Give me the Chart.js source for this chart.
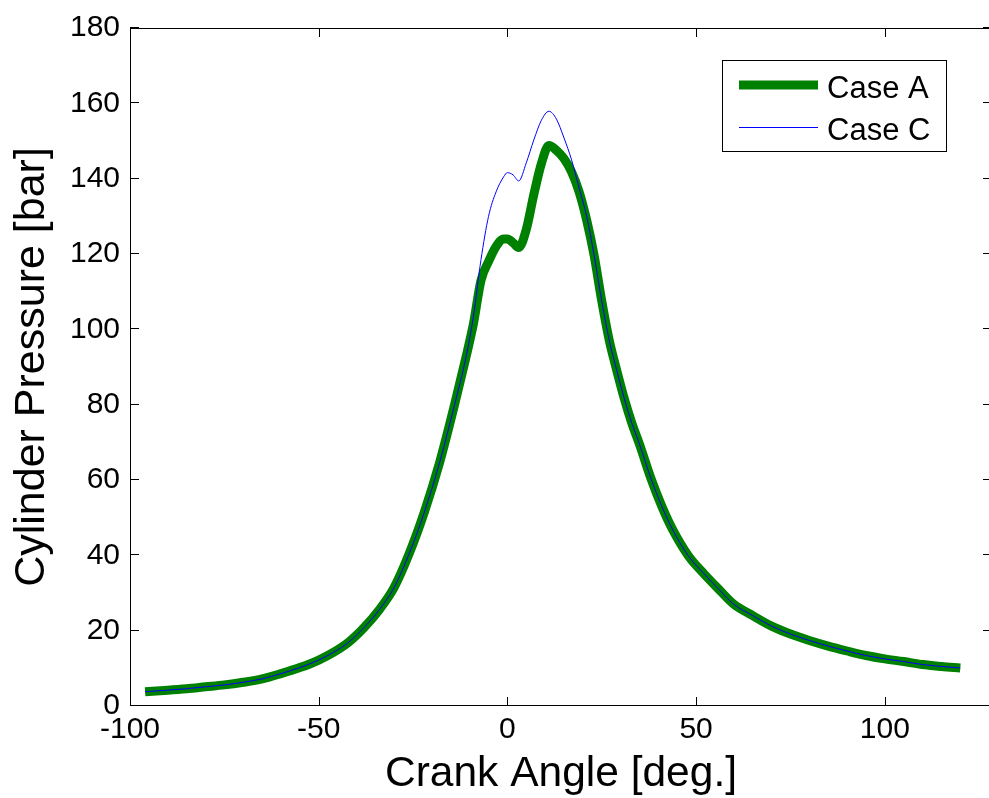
<!DOCTYPE html>
<html>
<head>
<meta charset="utf-8">
<title>Cylinder Pressure</title>
<script src="https://cdn.jsdelivr.net/npm/chart.js@4.4.1/dist/chart.umd.min.js"></script>
<style>
  html, body { margin: 0; padding: 0; background: #fff; overflow: hidden; }
  #wrap { width: 992px; height: 798px; position: relative; }
</style>
</head>
<body>
<div id="wrap"><canvas id="chart"></canvas></div>
<script>
// Crank angle [deg.] at which the pressure traces are sampled
const crankAngle = [-96, -90, -85, -80, -75, -70, -65, -60, -55, -50, -46, -42, -38, -34, -30, -26, -22, -18, -14, -11,
  -9, -7, -5, -3, -1, 0, 1.5, 3, 5, 7, 9, 11, 13, 15, 17, 19, 21, 23, 25, 27, 29, 31, 33, 35, 38, 41, 44, 48, 52, 56,
  60, 65, 70, 75, 80, 85, 90, 95, 100, 105, 110, 115, 120];

// Cylinder pressure [bar], Case A
const caseA = [3.8, 4.2, 4.6, 5.1, 5.6, 6.3, 7.2, 8.6, 10.2, 12.2, 14.3, 17.0, 20.8, 25.5, 31.5, 40.5, 51.5, 64.5, 80.0, 92.5,
  101.5, 113.0, 118.0, 122.0, 124.0, 124.0, 123.0, 121.7, 126.5, 135.8, 144.0, 148.8, 147.5, 145.3, 141.8, 136.5, 129.0, 119.5, 107.5, 97.0,
  89.0, 81.5, 75.0, 69.5, 60.5, 52.8, 46.4, 39.8, 35.2, 31.0, 27.0, 24.0, 21.2, 19.1, 17.4, 15.9, 14.6, 13.4, 12.5, 11.8,
  11.0, 10.5, 10.1];

// Cylinder pressure [bar], Case C
const caseC = [3.8, 4.2, 4.6, 5.1, 5.6, 6.3, 7.2, 8.6, 10.2, 12.2, 14.3, 17.0, 20.8, 25.5, 31.5, 40.5, 51.5, 64.5, 80.0, 92.5,
  103.5, 118.5, 130.0, 136.5, 140.5, 141.6, 141.0, 139.4, 144.2, 150.3, 155.5, 157.9, 155.8, 150.8, 145.0, 137.5, 130.0, 119.5, 107.5, 97.0,
  89.0, 81.5, 75.0, 69.5, 60.5, 52.8, 46.4, 39.8, 35.2, 31.0, 27.0, 24.0, 21.2, 19.1, 17.4, 15.9, 14.6, 13.4, 12.5, 11.8,
  11.0, 10.5, 10.1];

const seriesNames = ['Case A', 'Case C'];
const xTicks = [-100, -50, 0, 50, 100];
const yTicks = [0, 20, 40, 60, 80, 100, 120, 140, 160, 180];

const FONT = '"Liberation Sans", Arial, Helvetica, sans-serif';

const toPoints = (xs, ys) => xs.map((x, i) => ({ x: x, y: ys[i] }));

// Axes box with inward tick marks on all four sides, plus the boxed legend
const framePlugin = {
  id: 'frame',
  afterDatasetsDraw(chart) {
    const { ctx, chartArea: a, scales: { x, y } } = chart;
    ctx.save();
    ctx.strokeStyle = '#000';
    ctx.lineWidth = 1;
    ctx.strokeRect(a.left + 0.5, a.top + 0.5, a.right - a.left - 1, a.bottom - a.top - 1);
    const L = 9;
    ctx.beginPath();
    xTicks.forEach(v => {
      const px = Math.round(x.getPixelForValue(v)) + 0.5;
      ctx.moveTo(px, a.bottom); ctx.lineTo(px, a.bottom - L);
      ctx.moveTo(px, a.top); ctx.lineTo(px, a.top + L);
    });
    yTicks.forEach(v => {
      const py = Math.round(y.getPixelForValue(v)) - 0.5;
      ctx.moveTo(a.left, py); ctx.lineTo(a.left + L, py);
      ctx.moveTo(a.right, py); ctx.lineTo(a.right - L, py);
    });
    ctx.stroke();

    // legend
    const bx = 722.5, by = 60.5, bw = 224, bh = 91;
    ctx.fillStyle = '#fff';
    ctx.fillRect(bx, by, bw, bh);
    ctx.strokeRect(bx, by, bw, bh);
    const rows = [85, 127];
    chart.data.datasets.forEach((ds, i) => {
      const ry = rows[i];
      const off = ds.borderWidth === 1 ? 0.5 : 0;
      ctx.beginPath();
      ctx.strokeStyle = ds.borderColor;
      ctx.lineWidth = ds.borderWidth;
      ctx.lineCap = 'butt';
      ctx.moveTo(739, ry + off);
      ctx.lineTo(818, ry + off);
      ctx.stroke();
      ctx.fillStyle = '#000';
      ctx.font = '31px ' + FONT;
      ctx.textAlign = 'left';
      ctx.textBaseline = 'alphabetic';
      ctx.fillText(ds.label, 827, ry + 13);
    });
    ctx.restore();
  }
};

new Chart(document.getElementById('chart'), {
  type: 'line',
  data: {
    datasets: [
      {
        label: seriesNames[0],
        data: toPoints(crankAngle, caseA),
        borderColor: '#008000',
        borderWidth: 9,
        borderJoinStyle: 'round',
        cubicInterpolationMode: 'monotone',
        pointRadius: 0,
        order: 1
      },
      {
        label: seriesNames[1],
        data: toPoints(crankAngle, caseC),
        borderColor: '#0000ff',
        borderWidth: 1,
        cubicInterpolationMode: 'monotone',
        pointRadius: 0,
        order: 0
      }
    ]
  },
  options: {
    responsive: true,
    maintainAspectRatio: false,
    animation: false,
    layout: { padding: { top: 27, left: 0, right: 0, bottom: 0 } },
    plugins: { legend: { display: false }, tooltip: { enabled: false } },
    scales: {
      x: {
        type: 'linear',
        min: -100,
        max: 128.4,
        afterBuildTicks: s => { s.ticks = xTicks.map(v => ({ value: v })); },
        afterFit: s => { s.height = 92; },
        grid: { display: false, drawTicks: false },
        border: { display: false },
        ticks: { color: '#000', font: { family: FONT, size: 30 }, padding: 6, maxRotation: 0 },
        title: {
          display: true,
          text: 'Crank Angle [deg.]',
          color: '#000',
          font: { family: FONT, size: 42.5, lineHeight: 1.1 },
          padding: { top: 0, bottom: 0 }
        }
      },
      y: {
        type: 'linear',
        min: 0,
        max: 180,
        afterBuildTicks: s => { s.ticks = yTicks.map(v => ({ value: v })); },
        afterFit: s => { s.width = 130; },
        grid: { display: false, drawTicks: false },
        border: { display: false },
        ticks: { color: '#000', font: { family: FONT, size: 30 }, padding: 10 },
        title: {
          display: true,
          text: 'Cylinder Pressure [bar]',
          color: '#000',
          font: { family: FONT, size: 43, lineHeight: 1.2 },
          padding: { top: 6, bottom: 0 }
        }
      }
    }
  },
  plugins: [framePlugin]
});
</script>
</body>
</html>
